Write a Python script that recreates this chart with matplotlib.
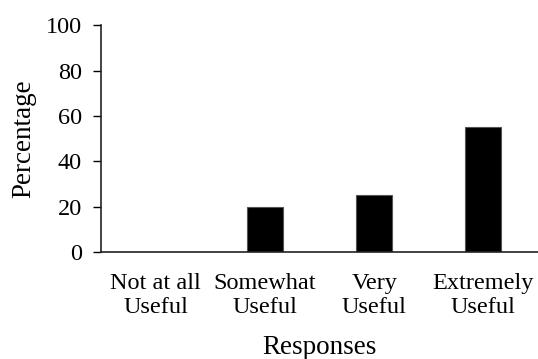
import numpy as np
import matplotlib.pyplot as plt

categories = ['Not at all\nUseful', 'Somewhat\nUseful', 'Very\nUseful', 'Extremely\nUseful']
values = [0, 20, 25, 55]

plt.rcParams['font.family'] = ['Liberation Serif', 'DejaVu Serif']

fig = plt.figure(figsize=(5.38, 3.59), dpi=100)
ax = fig.add_axes([0.188, 0.298, 0.812, 0.632])

x = np.arange(len(categories))
ax.bar(x, values, width=0.33, color='black', edgecolor='#555555', linewidth=0.8)

ax.set_xlim(-0.5, len(categories) - 0.5)
ax.set_ylim(0, 100)
ax.set_yticks([0, 20, 40, 60, 80, 100])
ax.set_xticks(x)
ax.set_xticklabels(categories, fontsize=17.5, linespacing=1.2)
ax.tick_params(axis='y', labelsize=17.5, length=6, width=1, direction='out', pad=8)
ax.tick_params(axis='x', length=0, pad=15)

for s in ['top', 'right']:
    ax.spines[s].set_visible(False)
for s in ['left', 'bottom']:
    ax.spines[s].set_linewidth(1.2)
    ax.spines[s].set_color('#222222')

ax.set_ylabel('Percentage', fontsize=19.5, labelpad=7)
ax.set_xlabel('Responses', fontsize=19.5, labelpad=12)

fig.savefig('out.png', dpi=100)
